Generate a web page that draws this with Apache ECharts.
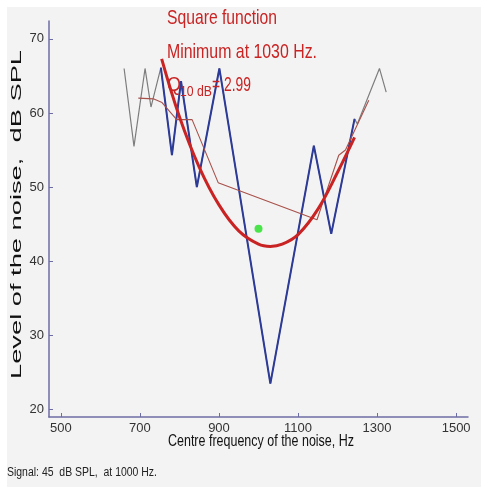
<!DOCTYPE html>
<html>
<head>
<meta charset="utf-8">
<style>
  html, body { margin: 0; padding: 0; background: #fff; }
  #chart { width: 481px; height: 487px; }
</style>
<script src="https://cdn.jsdelivr.net/npm/echarts@6.0.0/dist/echarts.min.js"></script>
</head>
<body>
<div id="chart"></div>
<script>
// measured noise levels (gray = whole run, blue = part around the signal)
var noiseFreq  = [660, 685, 713, 728, 753, 781, 804, 844, 901, 1030, 1140, 1184, 1243, 1250, 1306, 1323];
var noiseLevel = [66.0, 55.5, 66.0, 60.8, 66.1, 54.3, 64.3, 50.0, 66.0, 23.5, 55.6, 43.7, 59.2, 58.5, 66.0, 62.8];
var blueFrom = 750, blueTo = 1245;

// thin brown smoothed line
var smoothFreq  = [696, 734, 756, 793, 832, 898, 1148, 1203, 1220, 1279];
var smoothLevel = [62.0, 61.9, 61.4, 59.1, 59.1, 50.6, 45.6, 54.3, 55.0, 61.7];

// square function fit
var fitFreq  = [755, 800, 850, 900, 950, 1000, 1030, 1060, 1100, 1150, 1200, 1243];
var fitLevel = [67.3, 59.5, 52.7, 47.6, 44.1, 42.3, 42.0, 42.3, 43.6, 47.0, 52.0, 56.7];

// signal
var signalFreq = 1000, signalLevel = 44.4;

var xTicks = [500, 700, 900, 1100, 1300, 1500];
var yTicks = [20, 30, 40, 50, 60, 70];

var textLines = ['Square function', 'Minimum at 1030 Hz.'];
var qMain = 'Q', qSub = '10 dB', qValue = '= 2.99';
var xTitle = 'Centre frequency of the noise, Hz';
var yTitle = 'Level of the noise,  dB SPL';
var footNote = 'Signal: 45  dB SPL,  at 1000 Hz.';

function pairs(xs, ys) {
  var out = [];
  for (var i = 0; i < xs.length; i++) out.push([xs[i], ys[i]]);
  return out;
}
var grayData = pairs(noiseFreq, noiseLevel);
var blueData = grayData.filter(function (p) { return p[0] >= blueFrom && p[0] <= blueTo; });

// squeeze text to the widths seen in the picture
var mctx = document.createElement('canvas').getContext('2d');
function fit(text, font, w) {
  mctx.font = font;
  return w / mctx.measureText(text).width;
}

var red = '#c92323';
var axisCol = '#6d6da6';
var sans = '"Liberation Sans", Arial, sans-serif';

function txt(x, y, text, size, w, fill, extra, align) {
  var font = size + 'px ' + sans;
  var el = {
    type: 'text', x: x, y: y, scaleX: fit(text, font, w), z: 100,
    style: {
      text: text, font: font, fill: fill,
      align: align || 'left', textAlign: align || 'left',
      verticalAlign: 'middle', textVerticalAlign: 'middle'
    }
  };
  if (extra) for (var k in extra) el[k] = extra[k];
  return el;
}

var chart = echarts.init(document.getElementById('chart'));
chart.setOption({
  backgroundColor: '#ffffff',
  animation: false,
  grid: { left: 49, top: 21, width: 419, height: 396 },
  xAxis: {
    type: 'value', min: 470, max: 1530,
    axisLine: { lineStyle: { color: axisCol, width: 1.5 } },
    axisTick: { inside: true, length: 4, customValues: xTicks, lineStyle: { color: axisCol } },
    axisLabel: {
      customValues: xTicks, margin: 5, color: '#333', fontSize: 13, fontFamily: sans,
      formatter: function (v) { return String(v); }
    },
    splitLine: { show: false }
  },
  yAxis: {
    type: 'value', min: 19, max: 72.4,
    axisLine: { show: true, lineStyle: { color: axisCol, width: 1.5 } },
    axisTick: { show: true, inside: true, length: 4, customValues: yTicks, lineStyle: { color: axisCol } },
    axisLabel: {
      customValues: yTicks, margin: 5, color: '#333', fontSize: 13, fontFamily: sans,
      formatter: function (v) { return String(v); }
    },
    splitLine: { show: false }
  },
  graphic: [
    { type: 'rect', z: -10, shape: { x: 7, y: 7, width: 474, height: 480 }, style: { fill: '#f3f3f3' } },
    txt(167, 18, textLines[0], 21, 110, red),
    txt(167, 52, textLines[1], 21, 150, red),
    txt(167, 85, qMain, 21, 14, red),
    txt(180, 92, qSub, 14, 32, red),
    txt(212, 85, qValue, 21, 39, red),
    txt(261, 441, xTitle, 17, 186, '#111', null, 'center'),
    txt(17, 379, yTitle, 15, 329, '#111', { rotation: Math.PI / 2 }),
    txt(7, 473, footNote, 12, 150, '#222')
  ],
  series: [
    {
      type: 'line', data: grayData, symbol: 'none', z: 2,
      lineStyle: { color: '#7d7d7d', width: 1.2 }
    },
    {
      type: 'line', data: blueData, symbol: 'none', z: 3,
      lineStyle: { color: '#2c3a98', width: 2 }
    },
    {
      type: 'line', data: pairs(smoothFreq, smoothLevel), symbol: 'none', z: 4,
      lineStyle: { color: '#a8504a', width: 1.1 }
    },
    {
      type: 'line', data: pairs(fitFreq, fitLevel), symbol: 'none', smooth: 0.4, z: 5,
      lineStyle: { color: red, width: 3 }
    },
    {
      type: 'scatter', data: [[signalFreq, signalLevel]], symbolSize: 8, z: 6,
      itemStyle: { color: '#1fe01f' }
    }
  ]
});
</script>
</body>
</html>
